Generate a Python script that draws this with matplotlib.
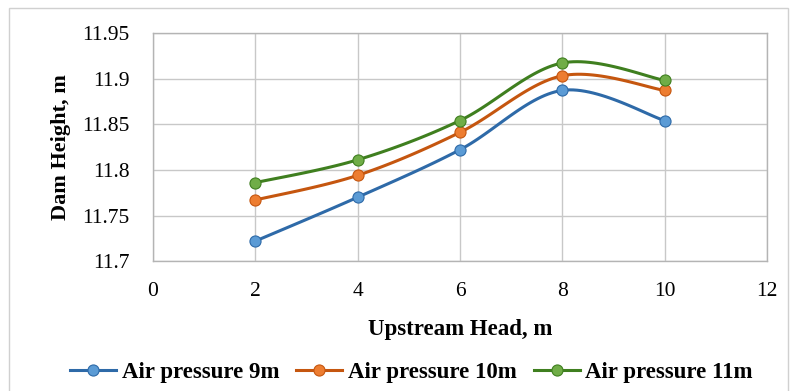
import numpy as np
import matplotlib
matplotlib.use("Agg")
import matplotlib.pyplot as plt
from matplotlib.lines import Line2D

x = [2, 4, 6, 8, 10]
air_9 = [11.722, 11.770, 11.822, 11.887, 11.854]
air_10 = [11.767, 11.794, 11.841, 11.903, 11.887]
air_11 = [11.786, 11.811, 11.854, 11.917, 11.898]
labels = ["Air pressure 9m", "Air pressure 10m", "Air pressure 11m"]
xticks = [0, 2, 4, 6, 8, 10, 12]
yticks = [11.7, 11.75, 11.8, 11.85, 11.9, 11.95]
yticklabels = ["11.7", "11.75", "11.8", "11.85", "11.9", "11.95"]

line_colors = ["#2e6aa8", "#c5560f", "#3f7f1f"]
marker_colors = ["#5b9bd5", "#ed7d31", "#70ad47"]


def smooth(xs, ys, n=30):
    xs = np.asarray(xs, float); ys = np.asarray(ys, float)
    P = np.column_stack([xs, ys])
    P = np.vstack([P[0], P, P[-1]])
    out = []
    for i in range(1, len(P) - 2):
        p0, p1, p2, p3 = P[i - 1], P[i], P[i + 1], P[i + 2]
        b1 = p1 + (p2 - p0) / 6.0
        b2 = p2 - (p3 - p1) / 6.0
        t = np.linspace(0, 1, n)[:, None]
        seg = ((1 - t) ** 3) * p1 + 3 * ((1 - t) ** 2) * t * b1 + 3 * (1 - t) * t ** 2 * b2 + t ** 3 * p2
        out.append(seg if i == 1 else seg[1:])
    S = np.vstack(out)
    return S[:, 0], S[:, 1]


plt.rcParams['font.family'] = ['Liberation Serif', 'DejaVu Serif']
fig = plt.figure(figsize=(7.9, 3.91), dpi=100)
ax = fig.add_axes([0.1937, 0.332, 0.777, 0.584])

series = [air_9, air_10, air_11]
for ys, lc, mc in zip(series, line_colors, marker_colors):
    sx, sy = smooth(x, ys)
    ax.plot(sx, sy, color=lc, lw=2.2, zorder=3, solid_capstyle='round')
    ax.plot(x, ys, ls='none', marker='o', ms=8, mfc=mc, mec=lc, mew=0.8, zorder=4)

ax.set_xlim(0, 12)
ax.set_ylim(11.7, 11.95)
ax.set_xticks(xticks)
ax.set_xticklabels([str(v) for v in xticks])
ax.set_yticks(yticks)
ax.set_yticklabels(yticklabels)
ax.grid(True, color="#c8c8c8", lw=1)
ax.set_axisbelow(True)
for s in ax.spines.values():
    s.set_color("#b4b4b4")
    s.set_linewidth(1)
ax.tick_params(length=0, labelsize=15.5, colors="black")
ax.tick_params(axis='x', pad=15)
ax.tick_params(axis='y', pad=17)

ax.set_xlabel("Upstream Head, m", fontsize=16.5, fontweight='bold', labelpad=13)
ax.set_ylabel("Dam Height, m", fontsize=16, fontweight='bold', labelpad=8)

handles = [Line2D([0], [0], color=lc, lw=2.2, marker='o', ms=8, mfc=mc, mec=lc, mew=0.8)
           for lc, mc in zip(line_colors, marker_colors)]
fig.legend(handles, labels, loc='center', bbox_to_anchor=(0.521, 0.047), ncol=3,
           frameon=False, prop={'weight': 'bold', 'size': 16.5}, handlelength=2.0,
           columnspacing=0.75, handletextpad=0.25)

border = plt.Rectangle((0.012, -0.02), 0.985, 1.0, transform=fig.transFigure,
                       fill=False, edgecolor="#d0d0d0", lw=1)
fig.patches.append(border)

fig.savefig("out.png", dpi=100)
